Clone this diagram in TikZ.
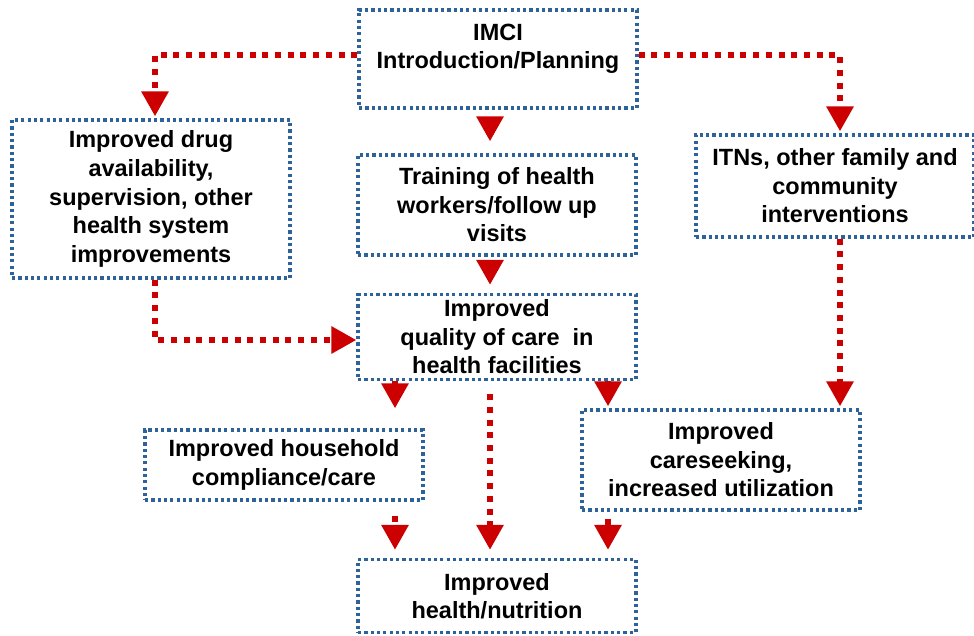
\documentclass[tikz,border=0pt]{standalone}
\usepackage{fontspec}
\setmainfont{Liberation Sans}
\usetikzlibrary{arrows.meta}
\pgfdeclarelayer{edgelayer}
\pgfdeclarelayer{nodelayer}
\pgfsetlayers{edgelayer,nodelayer,main}
\definecolor{boxblue}{RGB}{46,98,155}
\definecolor{flowred}{RGB}{204,0,0}
\tikzset{font=\fontsize{16.7}{20.3}\selectfont\bfseries}
\tikzstyle{none}=[inner sep=0pt]
\tikzstyle{box}=[draw=boxblue,line width=0.82mm,dash pattern=on 0.8mm off 0.78mm,minimum width=69.5mm,align=center,inner sep=0pt]
\tikzstyle{flow}=[draw=flowred,line width=1.5mm,dash pattern=on 1.5mm off 1.68mm,-{Triangle[length=6.25mm,width=6.5mm]}]

\begin{document}
\begin{tikzpicture}[x=0.25mm,y=-0.25mm]
	\useasboundingbox (0,0) rectangle (974,635);
	\begin{pgfonlayer}{nodelayer}
		\node [style=box,minimum height=24.5mm] (0) at (498, 59) {IMCI\\Introduction/Planning\\[-8pt]\strut};
		\node [style=box,minimum height=39.5mm] (1) at (151, 199) {Improved drug\\availability,\\supervision, other\\health system\\improvements};
		\node [style=box,minimum height=25mm] (2) at (497, 205) {Training of health\\workers/follow up\\visits};
		\node [style=box,minimum height=25.5mm] (3) at (835, 186) {ITNs, other family and\\community\\interventions};
		\node [style=box,minimum height=21.25mm] (4) at (497, 337) {Improved\\quality of care~~in\\health facilities};
		\node [style=box,minimum height=17.5mm] (5) at (284, 465) {Improved household\\compliance/care};
		\node [style=box,minimum height=25mm] (6) at (721, 460) {Improved\\careseeking,\\increased utilization};
		\node [style=box,minimum height=18.25mm] (7) at (497, 596) {Improved\\health/nutrition};
		\coordinate (8) at (395, 0);
		\coordinate (9) at (608, 0);
		\coordinate (10) at (490, 0);
	\end{pgfonlayer}
	\begin{pgfonlayer}{edgelayer}
		\draw [style=flow,shorten >=0.5mm] ([yshift=1mm]0.west) -| ([xshift=1mm]1.north);
		\draw [style=flow,shorten >=0.5mm] ([yshift=1mm]0.east) -| ([xshift=1.25mm]3.north);
		\draw [style=flow,shorten <=2.5mm,shorten >=3mm] (0.south -| 10) -- (2.north -| 10);
		\draw [style=flow,shorten <=1.75mm,shorten >=2mm] (2.south -| 10) -- (4.north -| 10);
		\draw [style=flow] ([xshift=1mm]1.south) |- ([yshift=-0.75mm]4.west);
		\draw [style=flow,shorten >=0.5mm] ([xshift=1.25mm]3.south) -- ([xshift=1.25mm]3.south |- 6.north);
		\draw [style=flow,shorten >=5mm] (4.south -| 8) -- (5.north -| 8);
		\draw [style=flow,shorten <=3.25mm,shorten >=2mm] (4.south -| 10) -- (7.north -| 10);
		\draw [style=flow,shorten >=0.5mm] (4.south -| 9) -- (6.north -| 9);
		\draw [style=flow,shorten <=3.5mm,shorten >=2mm] (5.south -| 8) -- (7.north -| 8);
		\draw [style=flow,shorten <=1.75mm,shorten >=2mm] (6.south -| 9) -- (7.north -| 9);
	\end{pgfonlayer}
\end{tikzpicture}
\end{document}
